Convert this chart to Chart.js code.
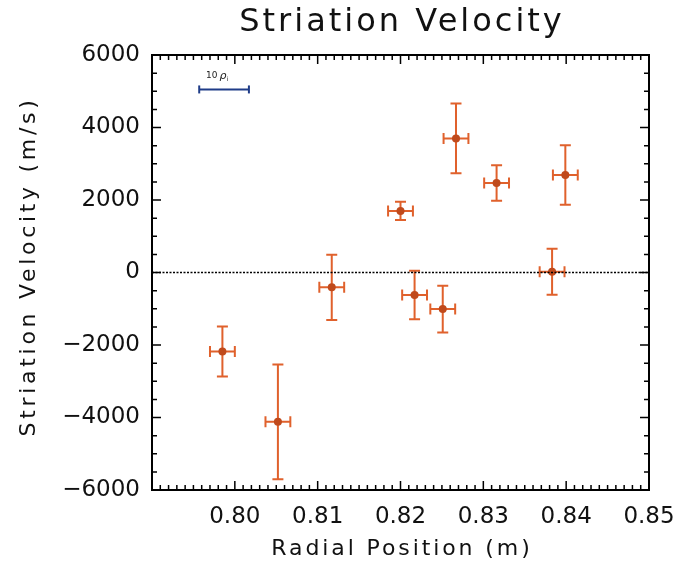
<!DOCTYPE html>
<html>
<head>
<meta charset="utf-8">
<script src="https://cdn.jsdelivr.net/npm/chart.js@4/dist/chart.umd.min.js"></script>
<style>
  html, body { margin: 0; padding: 0; background: #fff; }
  canvas { display: block; }
</style>
</head>
<body>
<canvas id="chart" width="676" height="567"></canvas>
<script>
// Posição radial (m) de cada medida, ordenada
const radialPos = [0.7985, 0.8052, 0.8117, 0.8200, 0.8217, 0.8251, 0.8267, 0.8316, 0.8383, 0.8399];
// Velocidade da estria (m/s)
const velocity  = [-2180, -4120, -410, 1700, -620, -1010, 3700, 2470, 20, 2690];
// Barras de erro
const velocityErr = [690, 1580, 900, 250, 670, 645, 965, 490, 635, 823];
const radialErr   = [0.0015, 0.0015, 0.0015, 0.0015, 0.0015, 0.0015, 0.0015, 0.0015, 0.0015, 0.0015];

// Barra de escala "10 ρi"
const scaleBarX = [0.7957, 0.8017];
const scaleBarY = 5050;
const scaleBarLabel = { x: 0.7979, y: 5440, main: '10 ρ', sub: 'i' };

// Eixos
const xRange = [0.79, 0.85];
const yRange = [-6000, 6000];

const titleText  = 'Striation Velocity';
const xTitleText = 'Radial Position (m)';
const yTitleText = 'Striation Velocity (m/s)';

const FONT = '"DejaVu Sans", sans-serif';
const BAR_COLOR = '#e0612c';
const DOT_COLOR = '#c04a1c';

/**
 * Desenha barras de erro (x e y) sob os marcadores.
 */
const errorBars = {
  id: 'errorBars',
  beforeDatasetsDraw(chart) {
    const { ctx, scales: { x, y } } = chart;
    const cap = 5.5;
    ctx.save();
    ctx.strokeStyle = BAR_COLOR;
    ctx.lineWidth = 2;
    radialPos.forEach((rx, i) => {
      const px = x.getPixelForValue(rx);
      const py = y.getPixelForValue(velocity[i]);
      const yTop = y.getPixelForValue(velocity[i] + velocityErr[i]);
      const yBot = y.getPixelForValue(velocity[i] - velocityErr[i]);
      const xL = x.getPixelForValue(rx - radialErr[i]);
      const xR = x.getPixelForValue(rx + radialErr[i]);
      ctx.beginPath();
      ctx.moveTo(px, yTop); ctx.lineTo(px, yBot);
      ctx.moveTo(px - cap, yTop); ctx.lineTo(px + cap, yTop);
      ctx.moveTo(px - cap, yBot); ctx.lineTo(px + cap, yBot);
      ctx.moveTo(xL, py); ctx.lineTo(xR, py);
      ctx.moveTo(xL, py - cap); ctx.lineTo(xL, py + cap);
      ctx.moveTo(xR, py - cap); ctx.lineTo(xR, py + cap);
      ctx.stroke();
    });
    ctx.restore();
  }
};

/**
 * Moldura estilo IDL: caixa com marcas para dentro nos quatro lados,
 * título, títulos dos eixos e rótulo da barra de escala.
 */
const frame = {
  id: 'frame',
  afterDraw(chart) {
    const { ctx, chartArea: a, scales: { x, y } } = chart;
    ctx.save();
    ctx.strokeStyle = '#000';
    ctx.lineWidth = 2;
    ctx.strokeRect(a.left, a.top, a.right - a.left, a.bottom - a.top);

    ctx.lineWidth = 1.5;
    ctx.beginPath();
    for (let i = 0; i <= 60; i++) {
      const px = x.getPixelForValue(xRange[0] + i * 0.001);
      const len = i % 10 === 0 ? 9 : 5;
      ctx.moveTo(px, a.bottom); ctx.lineTo(px, a.bottom - len);
      ctx.moveTo(px, a.top);    ctx.lineTo(px, a.top + len);
    }
    for (let v = yRange[0]; v <= yRange[1]; v += 500) {
      const py = y.getPixelForValue(v);
      const len = v % 2000 === 0 ? 9 : 5;
      ctx.moveTo(a.left, py);  ctx.lineTo(a.left + len, py);
      ctx.moveTo(a.right, py); ctx.lineTo(a.right - len, py);
    }
    ctx.stroke();

    // títulos
    ctx.fillStyle = '#111';
    ctx.textAlign = 'center';
    ctx.textBaseline = 'middle';
    const cx = (a.left + a.right) / 2;
    ctx.letterSpacing = '3px';
    ctx.font = '32px ' + FONT;
    ctx.fillText(titleText, cx + 1.5, 23);

    ctx.letterSpacing = '2.9px';
    ctx.font = '22px ' + FONT;
    ctx.fillText(xTitleText, cx + 1.5, 549);

    ctx.save();
    ctx.translate(29, (a.top + a.bottom) / 2 - 6);
    ctx.rotate(-Math.PI / 2);
    ctx.letterSpacing = '3.7px';
    ctx.fillText(yTitleText, 0, 0);
    ctx.restore();

    // rótulo da barra de escala
    ctx.letterSpacing = '0px';
    const lx = x.getPixelForValue(scaleBarLabel.x);
    const ly = y.getPixelForValue(scaleBarLabel.y);
    ctx.fillStyle = '#222';
    ctx.textAlign = 'right';
    ctx.font = '9px ' + FONT;
    ctx.fillText('10', lx, ly);
    ctx.textAlign = 'left';
    ctx.font = 'italic 11px ' + FONT;
    ctx.fillText('ρ', lx + 2, ly + 1);
    ctx.font = '6px ' + FONT;
    ctx.fillText(scaleBarLabel.sub, lx + 9, ly + 4);
    ctx.restore();
  }
};

const points = radialPos.map((rx, i) => ({ x: rx, y: velocity[i] }));

new Chart(document.getElementById('chart'), {
  type: 'scatter',
  data: {
    datasets: [
      {
        label: 'zero',
        type: 'line',
        data: [{ x: xRange[0], y: 0 }, { x: xRange[1], y: 0 }],
        borderColor: '#000',
        borderWidth: 1.5,
        borderDash: [2, 1.5],
        pointRadius: 0
      },
      {
        label: 'scale bar',
        type: 'line',
        data: scaleBarX.map(v => ({ x: v, y: scaleBarY })),
        borderColor: '#1f3c88',
        borderWidth: 2,
        pointStyle: 'line',
        rotation: 90,
        pointRadius: 4,
        pointBorderWidth: 2,
        pointBorderColor: '#1f3c88'
      },
      {
        label: 'Striation Velocity',
        data: points,
        backgroundColor: DOT_COLOR,
        borderColor: DOT_COLOR,
        pointRadius: 4,
        borderWidth: 0
      }
    ]
  },
  options: {
    responsive: false,
    devicePixelRatio: 1,
    animation: false,
    layout: { padding: { top: 55, right: 27, bottom: 0, left: 0 } },
    plugins: {
      legend: { display: false },
      tooltip: { enabled: false },
      title: { display: false }
    },
    scales: {
      x: {
        type: 'linear',
        min: xRange[0],
        max: xRange[1],
        afterFit: s => { s.height = 77; s.paddingLeft = 0; s.paddingRight = 0; },
        grid: { display: false, drawTicks: false },
        border: { display: false },
        ticks: {
          stepSize: 0.01,
          autoSkip: false,
          maxRotation: 0,
          padding: 13,
          color: '#111',
          font: { family: FONT, size: 23 },
          callback: v => Math.abs(v - xRange[0]) < 1e-6 ? '' : v.toFixed(2)
        }
      },
      y: {
        min: yRange[0],
        max: yRange[1],
        afterFit: s => { s.width = 152; s.paddingTop = 0; s.paddingBottom = 0; },
        grid: { display: false, drawTicks: false },
        border: { display: false },
        ticks: {
          stepSize: 2000,
          padding: 12,
          color: '#111',
          font: { family: FONT, size: 23 },
          callback: v => String(v).replace('-', '\u2212')
        }
      }
    }
  },
  plugins: [errorBars, frame]
});
</script>
</body>
</html>
